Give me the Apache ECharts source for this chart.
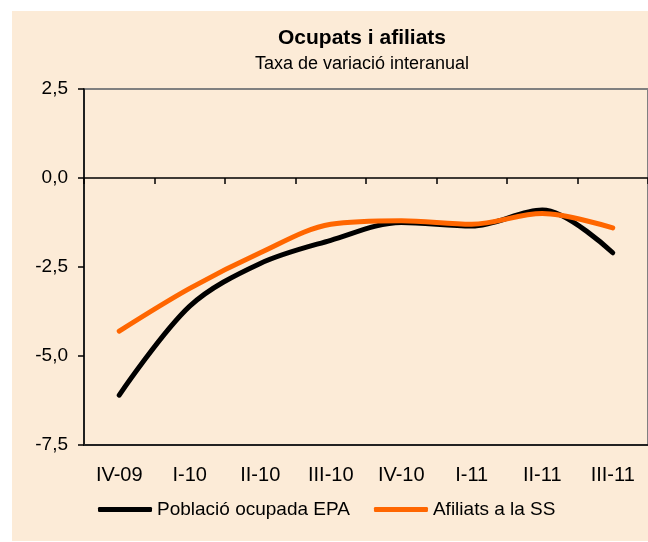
<!DOCTYPE html>
<html>
<head>
<meta charset="utf-8">
<style>
html,body{margin:0;padding:0;background:#ffffff;}
#chart{width:648px;height:542px;}
</style>
<script src="https://cdn.jsdelivr.net/npm/echarts@6/dist/echarts.min.js"></script>
</head>
<body>
<div id="chart"></div>
<script>
var categories = ['IV-09', 'I-10', 'II-10', 'III-10', 'IV-10', 'I-11', 'II-11', 'III-11'];
var poblacioOcupada = [-6.1, -3.6, -2.4, -1.75, -1.25, -1.35, -0.9, -2.1];
var afiliatsSS = [-4.3, -3.1, -2.1, -1.3, -1.2, -1.3, -1.0, -1.4];
var seriesNames = ['Població ocupada EPA', 'Afiliats a la SS'];
var yMin = -7.5, yMax = 2.5, yStep = 2.5;

var FONT = 'Liberation Sans, Arial, sans-serif';
var chart = echarts.init(document.getElementById('chart'), null, {renderer: 'canvas'});
chart.setOption({
  animation: false,
  backgroundColor: '#ffffff',
  graphic: [{
    type: 'rect', z: -10, silent: true,
    shape: {x: 12, y: 11, width: 640, height: 530},
    style: {fill: '#FCEBD7'}
  }],
  title: {
    text: 'Ocupats i afiliats',
    subtext: 'Taxa de variació interanual',
    left: 362,
    textAlign: 'center',
    top: 28,
    padding: 0,
    itemGap: 6,
    textStyle: {fontFamily: FONT, fontSize: 21, fontWeight: 'bold', color: '#000'},
    subtextStyle: {fontFamily: FONT, fontSize: 18, color: '#000'}
  },
  legend: {
    left: 98, top: 500, padding: 0,
    itemWidth: 54, itemHeight: 5, itemGap: 24,
    icon: 'roundRect',
    textStyle: {fontFamily: FONT, fontSize: 19, color: '#000'},
    data: seriesNames
  },
  grid: {
    left: 84, right: -2, top: 89, bottom: 97,
    show: true, borderColor: '#808080', borderWidth: 2, backgroundColor: 'transparent'
  },
  xAxis: [{
    type: 'category', data: categories, position: 'bottom',
    axisLine: {onZero: true, lineStyle: {color: '#000', width: 1.5}},
    axisTick: {show: true, length: 6, lineStyle: {color: '#000', width: 1.5}},
    axisLabel: {show: false},
    splitLine: {show: false}
  }, {
    type: 'category', data: categories, position: 'bottom',
    axisLine: {onZero: false, lineStyle: {color: '#222', width: 2}},
    axisTick: {show: false},
    axisLabel: {show: true, margin: 20, fontFamily: FONT, fontSize: 20, color: '#000'},
    splitLine: {show: false}
  }],
  yAxis: {
    type: 'value', min: yMin, max: yMax, interval: yStep,
    axisLine: {show: true, lineStyle: {color: '#000', width: 1.5}},
    axisTick: {show: true, length: 6, lineStyle: {color: '#000', width: 1.5}},
    axisLabel: {
      margin: 16, fontFamily: FONT, fontSize: 19, color: '#000',
      formatter: function (v) { return v.toFixed(1).replace('.', ','); }
    },
    splitLine: {show: false}
  },
  series: [{
    name: seriesNames[0], type: 'line', xAxisIndex: 0, data: poblacioOcupada,
    smooth: 0.33, showSymbol: false, symbol: 'none',
    lineStyle: {color: '#000000', width: 5, cap: 'round', join: 'round'},
    itemStyle: {color: '#000000'}
  }, {
    name: seriesNames[1], type: 'line', xAxisIndex: 0, data: afiliatsSS,
    smooth: 0.33, showSymbol: false, symbol: 'none',
    lineStyle: {color: '#FF6600', width: 5, cap: 'round', join: 'round'},
    itemStyle: {color: '#FF6600'}
  }]
});
</script>
</body>
</html>
